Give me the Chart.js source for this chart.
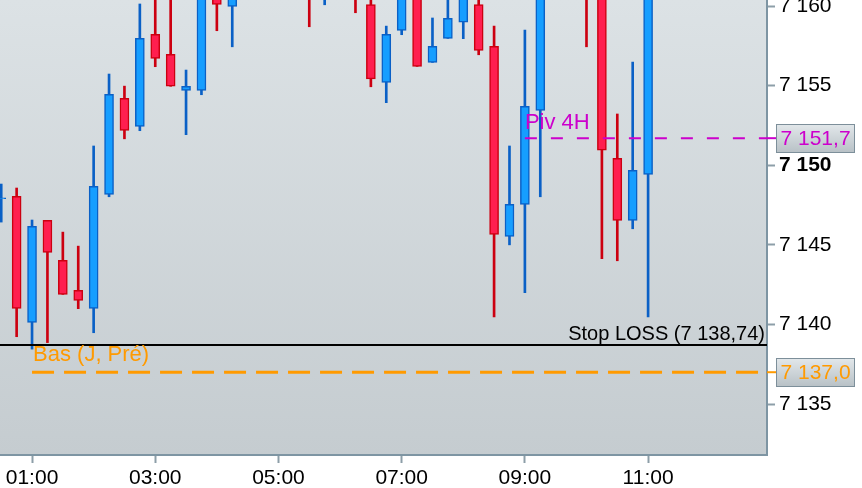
<!DOCTYPE html>
<html>
<head>
<meta charset="utf-8">
<script src="https://cdn.jsdelivr.net/npm/chart.js@4/dist/chart.umd.min.js"></script>
<style>
  html, body { margin:0; padding:0; background:#fff; }
  #chart { display:block; }
</style>
</head>
<body>
<canvas id="chart" width="862" height="488"></canvas>
<script>
/* =====  data (bougies 15 min)  ===== */
const times  = ['00:30','00:45','01:00','01:15','01:30','01:45','02:00','02:15','02:30','02:45',
                '03:00','03:15','03:30','03:45','04:00','04:15','04:30','04:45','05:00','05:15',
                '05:30','05:45','06:00','06:15','06:30','06:45','07:00','07:15','07:30','07:45',
                '08:00','08:15','08:30','08:45','09:00','09:15','09:30','09:45','10:00','10:15',
                '10:30','10:45','11:00'];
const opens  = [7147.90,7148.05,7140.13,7146.54,7144.03,7142.14,7141.01,7148.17,7154.20,7152.44,
                7158.22,7156.97,7154.70,7154.70,7161.70,7159.98,7162.60,7163.80,7162.90,7161.80,
                7162.40,7160.90,7162.50,7163.20,7160.10,7155.21,7158.47,7161.30,7156.46,7157.97,
                7158.98,7160.10,7157.47,7145.53,7147.54,7153.45,7161.60,7163.10,7162.00,7160.80,
                7150.43,7146.54,7149.43];
const highs  = [7148.82,7148.57,7146.56,7146.54,7145.80,7144.92,7151.21,7155.73,7154.97,7160.13,
                7161.50,7161.20,7155.98,7162.80,7163.00,7163.40,7164.50,7165.20,7164.00,7163.10,
                7163.00,7163.40,7164.10,7163.80,7160.90,7158.74,7161.60,7161.90,7159.25,7160.90,
                7161.50,7161.00,7158.74,7151.21,7158.49,7162.50,7164.00,7164.60,7163.00,7161.50,
                7153.22,7156.48,7162.00];
const lows   = [7146.43,7139.23,7138.45,7138.86,7141.89,7140.99,7139.48,7148.02,7151.66,7152.17,
                7156.19,7154.96,7151.92,7154.43,7158.45,7157.44,7161.00,7162.20,7161.40,7160.60,
                7158.70,7160.08,7161.30,7159.58,7154.93,7153.93,7158.20,7156.21,7156.46,7157.97,
                7157.95,7156.94,7140.48,7145.00,7141.99,7148.02,7160.90,7161.20,7157.44,7144.13,
                7144.00,7146.01,7140.48];
const closes = [7147.95,7141.01,7146.16,7144.53,7141.89,7141.51,7148.67,7154.45,7152.19,7157.97,
                7156.71,7154.96,7154.96,7161.90,7160.10,7162.60,7163.80,7162.90,7161.80,7162.40,
                7160.90,7162.50,7163.20,7160.80,7155.43,7158.22,7161.20,7156.21,7157.47,7159.23,
                7160.90,7157.22,7145.66,7147.54,7153.70,7161.60,7163.10,7162.00,7160.80,7150.94,
                7146.54,7149.68,7161.30];

const xTickLabels = ['01:00','03:00','05:00','07:00','09:00','11:00'];
const yTicks      = [7135, 7140, 7145, 7150, 7155, 7160];
const xMin = 0.48,    xMax = 12.93;      // heures
const yMin = 7131.8,  yMax = 7160.38;

/* niveaux tracés */
const stopLoss = 7138.74;
const basJPre  = 7137.0;   const basStart = '01:00';
const piv4H    = 7151.7;   const pivStart = '09:00';

/* =====  helpers  ===== */
const FONT = "'Liberation Sans', Arial, sans-serif";
const toHours = s => { const [h, m] = s.split(':').map(Number); return h + m / 60; };
const thousands = s => s.replace(/^(\d+)(\d{3})/, '$1 $2');
const fmtInt = v => thousands(v.toFixed(0));
const fmtDec = v => thousands(v.toFixed(1)).replace('.', ',');
const isUp = i => closes[i] >= opens[i];

const UP_BODY = '#169eff', UP_LINE = '#0a60c6';
const DN_BODY = '#ff1f4f', DN_LINE = '#cc0010';

/* =====  fond dégradé de la zone de tracé  ===== */
const bgPlugin = {
  id: 'fond',
  beforeDraw(chart) {
    const { ctx, chartArea: a } = chart;
    ctx.save();
    ctx.fillStyle = '#fff';
    ctx.fillRect(0, 0, chart.width, chart.height);
    const g = ctx.createLinearGradient(0, a.top, 0, a.bottom);
    g.addColorStop(0, '#dce2e5');
    g.addColorStop(1, '#c5ccd0');
    ctx.fillStyle = g;
    ctx.fillRect(a.left, a.top, a.right - a.left, a.bottom - a.top);
    ctx.restore();
  }
};

/* =====  lignes de niveau + étiquettes  ===== */
const levelsPlugin = {
  id: 'niveaux',
  afterDatasetsDraw(chart) {
    const { ctx, chartArea: a, scales: { x, y } } = chart;
    ctx.save();
    ctx.beginPath();
    ctx.rect(a.left, a.top, a.right - a.left, a.bottom - a.top);
    ctx.clip();

    // Stop LOSS
    let py = Math.round(y.getPixelForValue(stopLoss));
    ctx.strokeStyle = '#000'; ctx.lineWidth = 2; ctx.setLineDash([]);
    ctx.beginPath(); ctx.moveTo(a.left, py); ctx.lineTo(a.right, py); ctx.stroke();
    ctx.fillStyle = '#000';
    ctx.font = `20px ${FONT}`;
    ctx.textAlign = 'right'; ctx.textBaseline = 'alphabetic';
    ctx.fillText(`Stop LOSS (${thousands(stopLoss.toFixed(2)).replace('.', ',')})`, a.right - 2, py - 5);

    // Bas (J, Pré)
    py = y.getPixelForValue(basJPre);
    let px = x.getPixelForValue(toHours(basStart));
    ctx.strokeStyle = '#ff9a00'; ctx.lineWidth = 3; ctx.setLineDash([22, 10]);
    ctx.beginPath(); ctx.moveTo(px, py); ctx.lineTo(a.right, py); ctx.stroke();
    ctx.fillStyle = '#ff9a00';
    ctx.font = `22px ${FONT}`;
    ctx.textAlign = 'left';
    ctx.fillText('Bas (J, Pré)', px + 1, py - 11);

    // Piv 4H
    py = y.getPixelForValue(piv4H);
    px = x.getPixelForValue(toHours(pivStart));
    ctx.strokeStyle = '#cc00cc'; ctx.lineWidth = 2; ctx.setLineDash([12, 14]);
    ctx.beginPath(); ctx.moveTo(px, py); ctx.lineTo(a.right, py); ctx.stroke();
    ctx.fillStyle = '#cc00cc';
    ctx.fillText('Piv 4H', px, py - 9);
    ctx.restore();

    // étiquettes sur l'axe
    [[piv4H, '#cc00cc'], [basJPre, '#ff9a00']].forEach(([v, col]) => {
      const ty = y.getPixelForValue(v);
      ctx.save();
      ctx.strokeStyle = col; ctx.lineWidth = 2;
      ctx.beginPath(); ctx.moveTo(a.right, ty); ctx.lineTo(a.right + 9, ty); ctx.stroke();
      const bx = a.right + 9.5, bw = 78, bh = 28, by = Math.round(ty - bh / 2) + 0.5;
      const g = ctx.createLinearGradient(0, by, 0, by + bh);
      g.addColorStop(0, '#e2e7ea'); g.addColorStop(1, '#b8c1c6');
      ctx.fillStyle = g; ctx.fillRect(bx, by, bw, bh);
      ctx.strokeStyle = '#7d8f9a'; ctx.lineWidth = 1; ctx.strokeRect(bx, by, bw, bh);
      ctx.fillStyle = col;
      ctx.font = `21px ${FONT}`;
      ctx.textAlign = 'left'; ctx.textBaseline = 'middle';
      ctx.fillText(fmtDec(v), bx + 4, ty + 1);
      ctx.restore();
    });
  }
};

/* =====  chart  ===== */
new Chart(document.getElementById('chart'), {
  type: 'bar',
  data: {
    datasets: [
      {
        label: 'corps',
        data: times.map((t, i) => ({ x: toHours(t), y: [opens[i], closes[i]] })),
        backgroundColor: c => isUp(c.dataIndex) ? UP_BODY : DN_BODY,
        borderColor: c => isUp(c.dataIndex) ? UP_LINE : DN_LINE,
        borderWidth: 1.5,
        borderSkipped: false,
        barThickness: 9,
        grouped: false,
        order: 0
      },
      {
        label: 'mèches',
        data: times.map((t, i) => ({ x: toHours(t), y: [lows[i], highs[i]] })),
        backgroundColor: c => isUp(c.dataIndex) ? UP_LINE : DN_LINE,
        borderWidth: 0,
        barThickness: 2,
        grouped: false,
        order: 1
      }
    ]
  },
  options: {
    responsive: false,
    animation: false,
    layout: { padding: 0 },
    plugins: { legend: { display: false }, tooltip: { enabled: false } },
    scales: {
      x: {
        type: 'linear',
        min: xMin, max: xMax,
        offset: false,
        afterBuildTicks: s => { s.ticks = xTickLabels.map(l => ({ value: toHours(l) })); },
        afterFit: s => { s.height = 33; s.paddingLeft = 0; s.paddingRight = 0; },
        ticks: {
          callback: (v, i) => xTickLabels[i],
          font: { family: FONT, size: 21 },
          color: '#000',
          padding: 3,
          maxRotation: 0,
          autoSkip: false
        },
        grid: { drawOnChartArea: false, offset: false, tickLength: 8, tickColor: '#8d9ea8', tickWidth: 2 },
        border: { color: '#7e95a3', width: 2 }
      },
      y: {
        position: 'right',
        min: yMin, max: yMax,
        afterBuildTicks: s => { s.ticks = yTicks.map(v => ({ value: v })); },
        afterFit: s => { s.width = 95; s.paddingTop = 0; s.paddingBottom = 0; },
        ticks: {
          callback: v => fmtInt(v),
          font: c => ({ family: FONT, size: 21, weight: (c.tick && c.tick.value === 7150) ? 'bold' : 'normal' }),
          color: '#000',
          padding: 4
        },
        grid: { drawOnChartArea: false, tickLength: 8, tickColor: '#8d9ea8', tickWidth: 2 },
        border: { color: '#7e95a3', width: 2 }
      }
    }
  },
  plugins: [bgPlugin, levelsPlugin]
});
</script>
</body>
</html>
